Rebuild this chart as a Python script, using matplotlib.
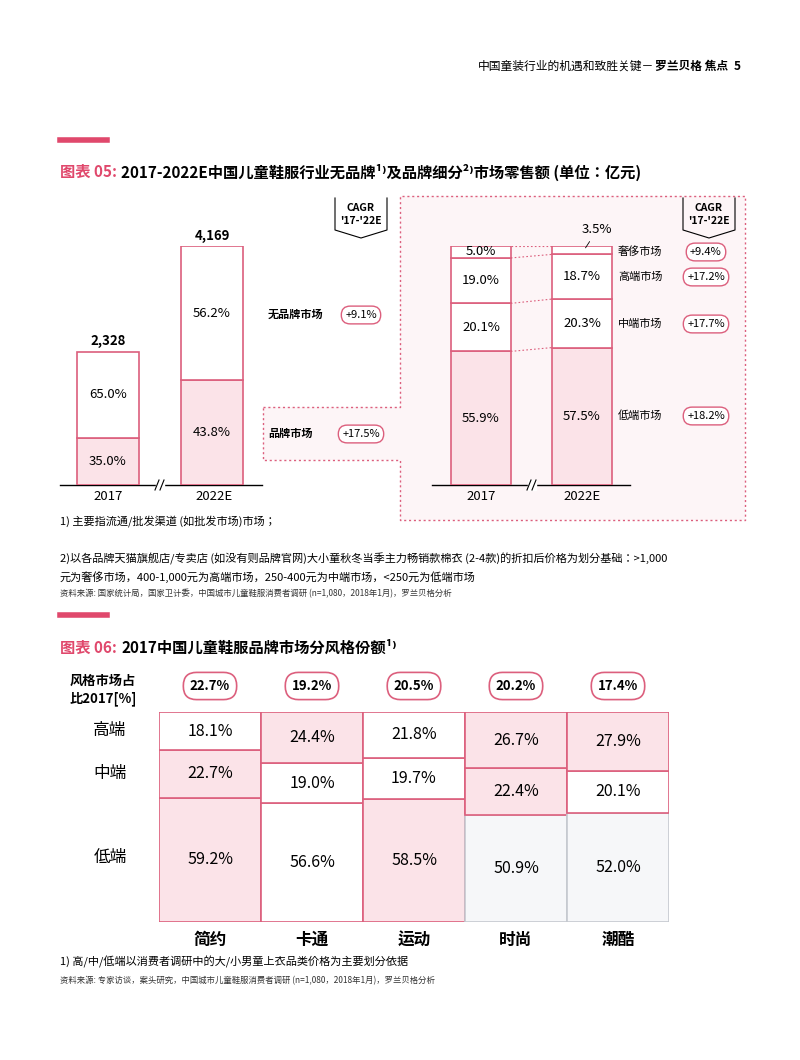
import matplotlib
matplotlib.use("Agg")
import matplotlib.pyplot as plt
from matplotlib import font_manager as fm
import numpy as np
from matplotlib.patches import Polygon

cjk = None
for f in fm.findSystemFonts():
    if 'CJK' in f and ('Regular' in f or 'SC' in f):
        try:
            fm.fontManager.addfont(f)
            cjk = fm.FontProperties(fname=f).get_name()
            if 'SC' in cjk:
                break
        except Exception:
            pass
plt.rcParams['font.family'] = [cjk or 'Noto Sans CJK SC', 'DejaVu Sans']

# ---------- data ----------
years = ['2017', '2022E']
totals = [2328, 4169]
brand_share = [35.0, 43.8]
nobrand_share = [65.0, 56.2]
seg_names = ['低端市场', '中端市场', '高端市场', '奢侈市场']
seg_2017 = [55.9, 20.1, 19.0, 5.0]
seg_2022 = [57.5, 20.3, 18.7, 3.5]
seg_cagr = ['+18.2%', '+17.7%', '+17.2%', '+9.4%']
market_cagr = ['+9.1%', '+17.5%']

styles = ['简约', '卡通', '运动', '时尚', '潮酷']
style_share = ['22.7%', '19.2%', '20.5%', '20.2%', '17.4%']
low = [59.2, 56.6, 58.5, 50.9, 52.0]
mid = [22.7, 19.0, 19.7, 22.4, 20.1]
high = [18.1, 24.4, 21.8, 26.7, 27.9]
tiers = ['高端', '中端', '低端']

PINK = '#e0486c'
EDGE = '#dc5f7d'
FILL = '#fbe3e8'
GRAYF = '#f6f7f9'
GRAYE = '#c5c9cf'

fig = plt.figure(figsize=(8, 10.6), dpi=100)
ov = fig.add_axes([0, 0, 1, 1])
ov.set_xlim(0, 800); ov.set_ylim(1060, 0); ov.axis('off')

def pax(x0, y0, w, h):
    a = fig.add_axes([x0/800, 1-(y0+h)/1060, w/800, h/1060])
    a.patch.set_alpha(0); a.axis('off')
    return a

# header
ov.text(654, 66, '中国童装行业的机遇和致胜关键－', ha='right', va='center', fontsize=8.5)
ov.text(655, 66, '罗兰贝格 焦点', ha='left', va='center', fontsize=8.5, fontweight='bold')
ov.text(741, 66, '5', ha='right', va='center', fontsize=8.5, fontweight='bold')

# section 1 title
ov.plot([60, 107], [140, 140], color=PINK, lw=4)
ov.text(60, 172, '图表 05:', color=PINK, fontsize=11, fontweight='bold', va='center')
ov.text(121, 172, '2017-2022E中国儿童鞋服行业无品牌¹⁾及品牌细分²⁾市场零售额 (单位：亿元)',
        fontsize=11, fontweight='bold', va='center')

# dotted frame
frame = [(263, 407), (400, 407), (400, 196), (745, 196), (745, 520), (400, 520),
         (400, 460), (263, 460), (263, 407)]
ov.add_patch(Polygon(frame, closed=True, facecolor='#fdf5f7', edgecolor='none', zorder=0))
fx, fy = zip(*frame)
ov.plot(fx, fy, color=EDGE, lw=1, ls=(0, (1.5, 2)), zorder=1)

# left chart
a1 = pax(56, 246, 208, 239)
a1.set_xlim(-0.5, 1.5); a1.set_ylim(0, max(totals))
x = np.arange(2)
bv = [t*s/100 for t, s in zip(totals, brand_share)]
nv = [t*s/100 for t, s in zip(totals, nobrand_share)]
a1.bar(x, bv, 0.6, color=FILL, edgecolor=EDGE, lw=1.2)
a1.bar(x, nv, 0.6, bottom=bv, color='white', edgecolor=EDGE, lw=1.2)
for i in range(2):
    a1.text(i, bv[i]/2, f'{brand_share[i]:.1f}%', ha='center', va='center', fontsize=9.5)
    a1.text(i, bv[i]+nv[i]/2, f'{nobrand_share[i]:.1f}%', ha='center', va='center', fontsize=9.5)
    a1.text(i, totals[i]+60, f'{totals[i]:,}', ha='center', va='bottom', fontsize=9.5, fontweight='bold')

# right chart
a2 = pax(430.5, 246, 202, 239)
a2.set_xlim(-0.5, 1.5); a2.set_ylim(0, 100)
fills = [FILL, 'white', 'white', 'white']
for data, xi in ((seg_2017, 0), (seg_2022, 1)):
    b = 0
    for k, v in enumerate(data):
        a2.bar(xi, v, 0.59, bottom=b, color=fills[k], edgecolor=EDGE, lw=1.2)
        if v > 4:
            a2.text(xi, b+v/2, f'{v:.1f}%', ha='center', va='center', fontsize=9.5)
        b += v
c0 = np.cumsum(seg_2017); c1 = np.cumsum(seg_2022)
for k in range(4):
    a2.plot([0.295, 0.705], [c0[k], c1[k]], color=EDGE, lw=0.8, ls=(0, (1.5, 2)))
a2.annotate(f'{seg_2022[3]:.1f}%', xy=(1.02, 100-seg_2022[3]/2), xytext=(1.15, 104),
            fontsize=9.5, ha='center', va='bottom',
            arrowprops=dict(arrowstyle='-', lw=0.6, color='black'), annotation_clip=False)

# baselines
for xs, xb in (((60, 262), 160), ((432, 630), 532)):
    ov.plot(xs, [485, 485], color='black', lw=1)
    ov.add_patch(plt.Rectangle((xb-4, 480), 8, 10, color='white', zorder=3))
    for dx in (-3, 2):
        ov.plot([xb+dx-2, xb+dx+2], [490, 480], color='black', lw=0.8, zorder=4)
for xc, yr in zip((108, 214, 481, 582), years*2):
    ov.text(xc, 497, yr, ha='center', va='center', fontsize=9.5)

pill = dict(boxstyle='round,pad=0.35,rounding_size=0.8', fc='white', ec=EDGE, lw=1)
ov.text(268, 314, '无品牌市场', fontsize=8, fontweight='bold', va='center')
ov.text(361, 315, market_cagr[0], fontsize=8, ha='center', va='center', bbox=pill)
ov.text(268, 433, '品牌市场', fontsize=8, fontweight='bold', va='center')
ov.text(361, 434, market_cagr[1], fontsize=8, ha='center', va='center', bbox=pill)
for nm, cg, yy in zip(seg_names, seg_cagr, (416, 324, 277, 252)):
    ov.text(618, yy, nm, fontsize=8, va='center')
    ov.text(706, yy, cg, fontsize=8, ha='center', va='center', bbox=pill)

def cagr(xl, xr):
    xm = (xl+xr)/2
    ov.plot([xl, xl, xm, xr, xr], [198, 230, 238, 230, 198], color='black', lw=0.8)
    ov.text(xm, 208, 'CAGR', ha='center', va='center', fontsize=7.5, fontweight='bold')
    ov.text(xm, 221, "'17-'22E", ha='center', va='center', fontsize=7.5, fontweight='bold')
cagr(335, 387); cagr(683, 735)

# footnotes 1
ov.text(60, 521, '1) 主要指流通/批发渠道 (如批发市场)市场；', fontsize=8, va='center')
ov.text(60, 559, '2)以各品牌天猫旗舰店/专卖店 (如没有则品牌官网)大小童秋冬当季主力畅销款棉衣 (2-4款)的折扣后价格为划分基础：>1,000',
        fontsize=8, va='center')
ov.text(60, 577, '元为奢侈市场，400-1,000元为高端市场，250-400元为中端市场，<250元为低端市场', fontsize=8, va='center')
ov.text(60, 594, '资料来源: 国家统计局，国家卫计委，中国城市儿童鞋服消费者调研 (n=1,080，2018年1月)，罗兰贝格分析',
        fontsize=6, va='center', color='#333333')

# section 2 title
ov.plot([60, 107], [615, 615], color=PINK, lw=4)
ov.text(60, 648, '图表 06:', color=PINK, fontsize=11, fontweight='bold', va='center')
ov.text(121, 648, '2017中国儿童鞋服品牌市场分风格份额¹⁾', fontsize=11, fontweight='bold', va='center')

ov.text(70, 690, '风格市场占\n比2017[%]', fontsize=9.5, fontweight='bold', va='center', linespacing=1.3)
for nm, yy in zip(tiers, (730, 773, 857)):
    ov.text(110, yy, nm, fontsize=12, ha='center', va='center')

a3 = pax(159, 712, 510, 210)
a3.set_xlim(0, 5); a3.set_ylim(0, 100)
lowfill = [FILL, 'white', FILL, GRAYF, GRAYF]
midfill = [FILL, 'white', 'white', FILL, 'white']
highfill = ['white', FILL, 'white', FILL, FILL]
for i in range(5):
    le = GRAYE if lowfill[i] == GRAYF else EDGE
    a3.bar(i+0.5, low[i], 1, color=lowfill[i], edgecolor=le, lw=1.2)
    a3.bar(i+0.5, mid[i], 1, bottom=low[i], color=midfill[i], edgecolor=EDGE, lw=1.2)
    a3.bar(i+0.5, high[i], 1, bottom=low[i]+mid[i], color=highfill[i], edgecolor=EDGE, lw=1.2)
    a3.text(i+0.5, low[i]/2, f'{low[i]:.1f}%', ha='center', va='center', fontsize=11.5)
    a3.text(i+0.5, low[i]+mid[i]/2, f'{mid[i]:.1f}%', ha='center', va='center', fontsize=11.5)
    a3.text(i+0.5, low[i]+mid[i]+high[i]/2, f'{high[i]:.1f}%', ha='center', va='center', fontsize=11.5)
    xc = 159 + 102*(i+0.5)
    ov.text(xc, 686, style_share[i], ha='center', va='center', fontsize=9.5, fontweight='bold',
            bbox=dict(boxstyle='round,pad=0.5,rounding_size=1.0', fc='white', ec=EDGE, lw=1.2))
    ov.text(xc, 940, styles[i], ha='center', va='center', fontsize=12, fontweight='bold')

ov.text(60, 962, '1) 高/中/低端以消费者调研中的大/小男童上衣品类价格为主要划分依据', fontsize=8, va='center')
ov.text(60, 981, '资料来源: 专家访谈，案头研究，中国城市儿童鞋服消费者调研 (n=1,080，2018年1月)，罗兰贝格分析',
        fontsize=6, va='center', color='#333333')

fig.savefig('out.png', dpi=100)
